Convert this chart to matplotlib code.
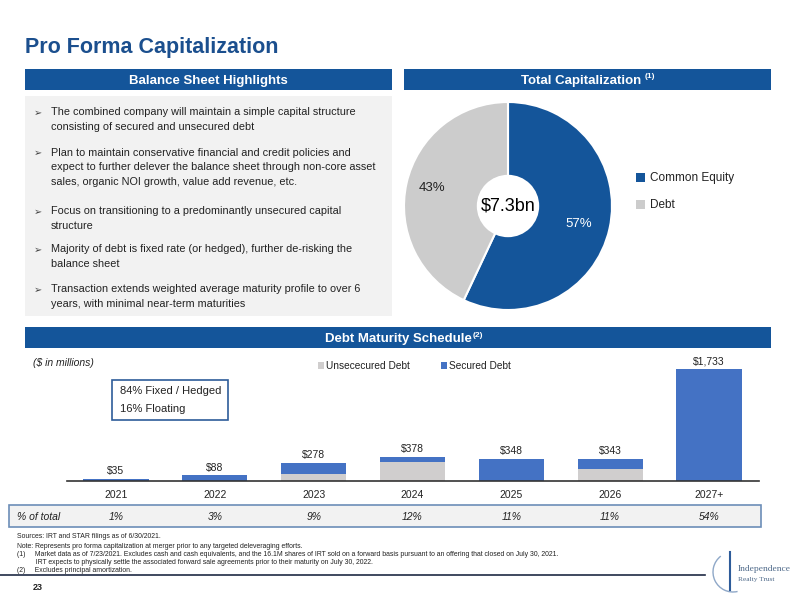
import matplotlib
matplotlib.use("Agg")
import matplotlib.pyplot as plt
from matplotlib.patches import Rectangle, Circle, Arc
import matplotlib.transforms as mtransforms

plt.rcParams['font.family'] = ['Liberation Sans', 'DejaVu Sans']

# ---------------- data ----------------
title = "Pro Forma Capitalization"
bullets = [
    "The combined company will maintain a simple capital structure\nconsisting of secured and unsecured debt",
    "Plan to maintain conservative financial and credit policies and\nexpect to further delever the balance sheet through non-core asset\nsales, organic NOI growth, value add revenue, etc.",
    "Focus on transitioning to a predominantly unsecured capital\nstructure",
    "Majority of debt is fixed rate (or hedged), further de-risking the\nbalance sheet",
    "Transaction extends weighted average maturity profile to over 6\nyears, with minimal near-term maturities",
]
pie_labels = ["Common Equity", "Debt"]
pie_values = [57, 43]
pie_center_text = "$7.3bn"

years = ["2021", "2022", "2023", "2024", "2025", "2026", "2027+"]
unsecured = [0, 0, 108, 294, 0, 190, 0]
secured = [35, 88, 170, 84, 348, 153, 1733]
pct_total = ["1%", "3%", "9%", "12%", "11%", "11%", "54%"]
footnotes = [
    "Sources: IRT and STAR filings as of 6/30/2021.",
    "Note: Represents pro forma capitalization at merger prior to any targeted deleveraging efforts.",
    "(1)     Market data as of 7/23/2021. Excludes cash and cash equivalents, and the 16.1M shares of IRT sold on a forward basis pursuant to an offering that closed on July 30, 2021.",
    "          IRT expects to physically settle the associated forward sale agreements prior to their maturity on July 30, 2022.",
    "(2)     Excludes principal amortization.",
]

# ---------------- styling ----------------
W, H = 793, 596
NAVY = "#14559A"
BAR_BLUE = "#4472C4"
BAR_GRAY = "#D0CECE"
PIE_GRAY = "#CCCCCC"
TXT = "#222222"

fig = plt.figure(figsize=(W / 100, H / 100), dpi=100)

def fx(x):
    return x / W

def fy(y):
    return 1 - y / H

def rect(x0, y0, x1, y1, **kw):
    fig.patches.append(Rectangle((fx(x0), fy(y1)), fx(x1) - fx(x0), fy(y0) - fy(y1),
                                 transform=fig.transFigure, **kw))

def text(x, y, s, **kw):
    fig.text(fx(x), fy(y), s, **kw)

# Title
text(25, 48, title, fontsize=15.5, fontweight="bold", color="#1B4F8E", va="center", ha="left")

# Header bars
rect(25, 69, 392, 90, facecolor=NAVY, edgecolor="none")
text(208, 81, "Balance Sheet Highlights", color="white", fontsize=9.5, fontweight="bold", ha="center", va="center")
rect(404, 69, 771, 90, facecolor=NAVY, edgecolor="none")
text(581, 81, "Total Capitalization", color="white", fontsize=9.5, fontweight="bold", ha="center", va="center")
text(645, 77, "(1)", color="white", fontsize=6, fontweight="bold", ha="left", va="center")
rect(25, 327, 771, 348, facecolor=NAVY, edgecolor="none")
text(398, 339, "Debt Maturity Schedule", color="white", fontsize=9.5, fontweight="bold", ha="center", va="center")
text(473, 335, "(2)", color="white", fontsize=6, fontweight="bold", ha="left", va="center")

# Bullet panel
rect(25, 96, 392, 316, facecolor="#F2F2F2", edgecolor="none")
ys = [113, 153, 212, 250, 290]
for yb, b in zip(ys, bullets):
    text(34, yb, "\u27a2", fontsize=7, color="#444444", va="center", ha="left", family="DejaVu Sans")
    text(51, yb - 5.5, b, fontsize=7.85, color=TXT, va="top", ha="left", linespacing=1.6)

# Pie
cx, cy, r = 508, 206, 104
axp = fig.add_axes([fx(cx - r), fy(cy + r), 2 * r / W, 2 * r / H])
axp.pie(pie_values, colors=[NAVY, PIE_GRAY], startangle=90, counterclock=False,
        wedgeprops=dict(edgecolor="white", linewidth=1.5))
axp.add_patch(Circle((0, 0), 0.3, facecolor="white", edgecolor="none", zorder=5))
axp.text(0, 0, pie_center_text, fontsize=13, ha="center", va="center", color="black", zorder=6)
axp.text(0.68, -0.17, f"{pie_values[0]}%", fontsize=9.5, ha="center", va="center", color="white")
axp.text(-0.73, 0.17, f"{pie_values[1]}%", fontsize=9.5, ha="center", va="center", color=TXT)
axp.set_xlim(-1, 1)
axp.set_ylim(-1, 1)
axp.set_aspect("equal")

for yy, lab, col in zip([178, 205], pie_labels, [NAVY, PIE_GRAY]):
    rect(636, yy - 5, 645, yy + 4, facecolor=col, edgecolor="none")
    text(650, yy, lab, fontsize=8.5, color=TXT, va="center", ha="left")

# Bar chart
x0, x1, ybot, ytop = 66.5, 758.5, 481, 359
ax = fig.add_axes([fx(x0), fy(ybot), (x1 - x0) / W, (ybot - ytop) / H])
xs = list(range(len(years)))
ax.bar(xs, unsecured, width=0.66, color=BAR_GRAY, label="Unsececured Debt")
ax.bar(xs, secured, width=0.66, bottom=unsecured, color=BAR_BLUE, label="Secured Debt")
for i in xs:
    tot = unsecured[i] + secured[i]
    ax.annotate(f"${tot:,}", (i, tot), xytext=(0, 2), textcoords="offset points",
                ha="center", va="bottom", fontsize=7.5, color=TXT)
ax.set_xlim(-0.5, len(years) - 0.5)
ax.set_ylim(0, 1893)
for s in ["top", "right", "left"]:
    ax.spines[s].set_visible(False)
ax.spines["bottom"].set_color("#333333")
ax.spines["bottom"].set_linewidth(1.2)
ax.set_yticks([])
ax.set_xticks(xs)
ax.set_xticklabels(years, fontsize=7.5, color=TXT)
ax.tick_params(axis="x", length=0, pad=6.5)
ax.patch.set_alpha(0)

# legend of bars
rect(318, 362, 324, 369, facecolor=BAR_GRAY, edgecolor="none")
text(326, 366, "Unsececured Debt", fontsize=7.3, color=TXT, va="center", ha="left")
rect(441, 362, 447, 369, facecolor=BAR_BLUE, edgecolor="none")
text(449, 366, "Secured Debt", fontsize=7.3, color=TXT, va="center", ha="left")

text(33, 363, "($ in millions)", fontsize=7.5, style="italic", color=TXT, va="center", ha="left")

# Fixed/floating box
rect(112, 380, 228, 420, facecolor="white", edgecolor="#2E5C9A", linewidth=1.2)
text(120, 391, "84% Fixed / Hedged", fontsize=8, color=TXT, va="center", ha="left")
text(120, 409, "16% Floating", fontsize=8, color=TXT, va="center", ha="left")

# % of total row
rect(9, 505, 761, 527, facecolor="#F2F2F2", edgecolor="#6C8EB8", linewidth=1.2)
text(17, 517, "% of total", fontsize=7.5, style="italic", color=TXT, va="center", ha="left")
trans = mtransforms.blended_transform_factory(ax.transData, fig.transFigure)
for i, p in zip(xs, pct_total):
    fig.text(i, fy(517), p, transform=trans, fontsize=7.5, style="italic", color=TXT,
             va="center", ha="center")

# Footnotes
for yy, s in zip([537, 546, 554, 562, 570], footnotes):
    text(17, yy, s, fontsize=4.95, color=TXT, va="center", ha="left")

fig.lines.append(plt.Line2D([0, fx(705)], [fy(575), fy(575)], transform=fig.transFigure,
                            color="#1F2A44", linewidth=1.2))
text(33, 587, "23", fontsize=6.5, fontweight="bold", color=TXT, va="center", ha="left")

# Logo
fig.patches.append(Arc((fx(733), fy(572)), 40 / W, 40 / H, theta1=120, theta2=280,
                       transform=fig.transFigure, color="#8FA8C8", linewidth=1))
fig.lines.append(plt.Line2D([fx(730), fx(730)], [fy(552), fy(590)], transform=fig.transFigure,
                            color="#2E5C9A", linewidth=1.5))
text(738, 569, "Independence", fontsize=6.8, family="Liberation Serif", color="#4F6A8A", va="center", ha="left")
text(738, 580, "Realty Trust", fontsize=5.3, family="Liberation Serif", color="#4F6A8A", va="center", ha="left")

fig.savefig("out.png", dpi=100)
